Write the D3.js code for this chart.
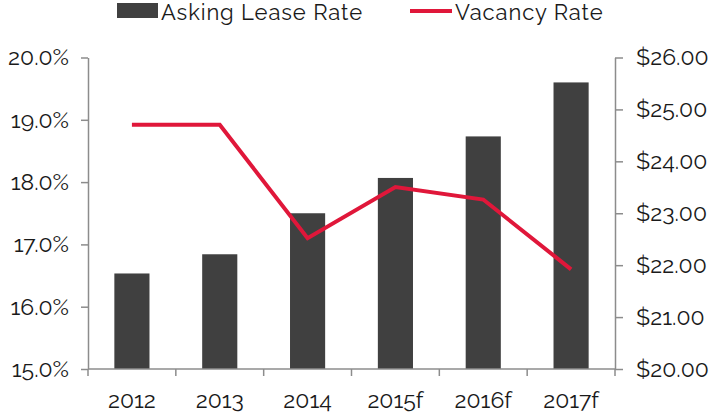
<!DOCTYPE html>
<html>
<head>
<meta charset="utf-8">
<script src="https://cdn.jsdelivr.net/npm/d3@7"></script>
<style>
  body { margin: 0; background: #fff; }
  svg text { font-family: Raleway, Lato, "Open Sans", sans-serif; font-weight: 400; fill: #1a1a1a; }
</style>
</head>
<body>
<div id="chart"></div>
<script>
// values
var years = ["2012", "2013", "2014", "2015f", "2016f", "2017f"]
var askingLease = [21.84, 22.21, 23.0, 23.68, 24.48, 25.52]
var vacancy = [18.92, 18.92, 17.1, 17.92, 17.72, 16.6]
var leftTicks = [15, 16, 17, 18, 19, 20]
var rightTicks = [20, 21, 22, 23, 24, 25, 26]

var W = 716, H = 413
var m = { top: 57.5, right: 101, bottom: 44, left: 88 }

var svg = d3.select("#chart").append("svg")
    .attr("width", W)
    .attr("height", H)

var x = d3.scaleBand()
    .domain(years)
    .range([m.left, W - m.right])
    .paddingInner(0.6)
    .paddingOuter(0.3)

var xb = d3.scaleBand().domain(years).range([m.left, W - m.right])

var yL = d3.scaleLinear().domain([15, 20]).range([H - m.bottom, m.top])
var yR = d3.scaleLinear().domain([20, 26]).range([H - m.bottom, m.top])

var axisColor = "#8c8c8c"
var barColor = "#404040"
var lineColor = "#e0173a"

// bars
svg.selectAll(".bar")
    .data(askingLease)
    .enter().append("rect")
    .attr("class", "bar")
    .attr("x", (d, i) => x(years[i]))
    .attr("width", x.bandwidth())
    .attr("y", d => yR(d))
    .attr("height", d => yR(20) - yR(d))
    .attr("fill", barColor)

// vacancy line
var line = d3.line()
    .x((d, i) => xb(years[i]) + xb.bandwidth() / 2)
    .y(d => yL(d))

svg.append("path")
    .datum(vacancy)
    .attr("d", line)
    .attr("fill", "none")
    .attr("stroke", lineColor)
    .attr("stroke-width", 4)
    .attr("stroke-linejoin", "miter")

// axes
function styleAxis(g) {
    g.selectAll("path, line").attr("stroke", axisColor).attr("stroke-width", 1.5)
    g.selectAll("text").attr("font-size", 23)
}

svg.append("g")
    .attr("transform", "translate(" + m.left + ",0)")
    .call(d3.axisLeft(yL).tickValues(leftTicks).tickFormat(d => d.toFixed(1) + "%").tickSize(7).tickSizeOuter(0).tickPadding(12))
    .call(styleAxis)

svg.append("g")
    .attr("transform", "translate(" + (W - m.right) + ",0)")
    .call(d3.axisRight(yR).tickValues(rightTicks).tickFormat(d => "$" + d.toFixed(2)).tickSize(8).tickSizeOuter(0).tickPadding(13))
    .call(styleAxis)

// x axis: ticks at band boundaries
var xAxis = svg.append("g")
    .attr("transform", "translate(0," + (H - m.bottom) + ")")
xAxis.append("line")
    .attr("x1", m.left).attr("x2", W - m.right)
    .attr("stroke", axisColor).attr("stroke-width", 1.5)
xAxis.selectAll(".tk")
    .data(years.concat(["end"]))
    .enter().append("line")
    .attr("x1", (d, i) => i < years.length ? xb(d) : W - m.right)
    .attr("x2", (d, i) => i < years.length ? xb(d) : W - m.right)
    .attr("y1", 0).attr("y2", 7)
    .attr("stroke", axisColor).attr("stroke-width", 1.5)
xAxis.selectAll(".lbl")
    .data(years)
    .enter().append("text")
    .attr("x", d => xb(d) + xb.bandwidth() / 2)
    .attr("y", 39)
    .attr("text-anchor", "middle")
    .attr("font-size", 23)
    .text(d => d)

// legend
var lg = svg.append("g")
lg.append("rect")
    .attr("x", 117).attr("y", 3)
    .attr("width", 41).attr("height", 15)
    .attr("fill", barColor)
lg.append("text")
    .attr("x", 161).attr("y", 20)
    .attr("font-size", 22)
    .attr("letter-spacing", 0.9)
    .text("Asking Lease Rate")
lg.append("line")
    .attr("x1", 410).attr("x2", 452)
    .attr("y1", 11).attr("y2", 11)
    .attr("stroke", lineColor).attr("stroke-width", 4)
lg.append("text")
    .attr("x", 455).attr("y", 20)
    .attr("font-size", 22)
    .attr("letter-spacing", 0.9)
    .text("Vacancy Rate")
</script>
</body>
</html>
